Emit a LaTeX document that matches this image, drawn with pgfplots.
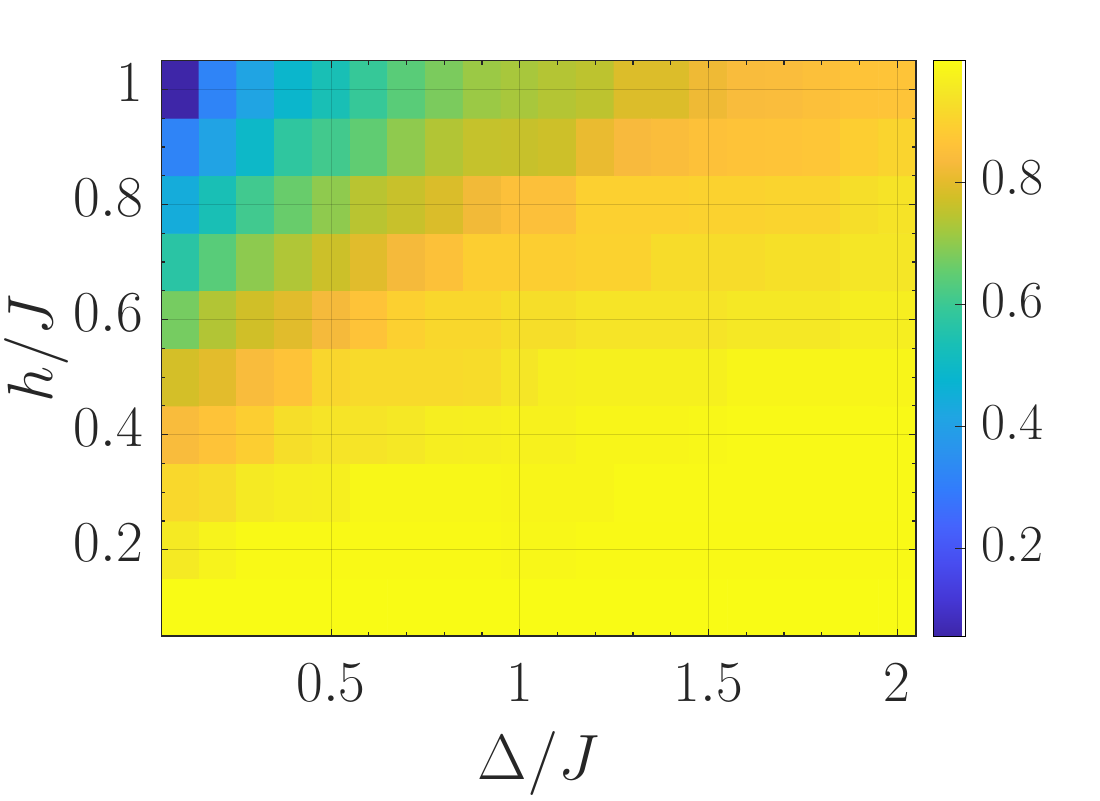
\RequirePackage{fix-cm}
\documentclass[border=0pt]{standalone}
\usepackage{pgfplots}
\pgfplotsset{compat=1.18}
\definecolor{mgray}{RGB}{38,38,38}
% parula (MATLAB) sampled from 64 entries
\pgfplotsset{colormap={parula}{
  rgb(0cm)=(0.2422,0.1504,0.6603)
  rgb(4cm)=(0.2706,0.2147,0.8364)
  rgb(8cm)=(0.2813,0.3006,0.9414)
  rgb(12cm)=(0.2699,0.3892,0.9906)
  rgb(16cm)=(0.1963,0.4847,0.9892)
  rgb(20cm)=(0.1687,0.5703,0.9359)
  rgb(24cm)=(0.1248,0.6459,0.8883)
  rgb(28cm)=(0.0297,0.7082,0.8163)
  rgb(32cm)=(0.0964,0.7500,0.7120)
  rgb(36cm)=(0.2161,0.7843,0.5923)
  rgb(40cm)=(0.3909,0.8029,0.4354)
  rgb(44cm)=(0.6174,0.7876,0.2612)
  rgb(46cm)=(0.7242,0.7698,0.1910)
  rgb(48cm)=(0.8203,0.7498,0.1535)
  rgb(50cm)=(0.9035,0.7330,0.1774)
  rgb(52cm)=(0.9728,0.7298,0.2394)
  rgb(54cm)=(0.9970,0.7659,0.2199)
  rgb(56cm)=(0.9892,0.8136,0.1885)
  rgb(58cm)=(0.9676,0.8639,0.1643)
  rgb(60cm)=(0.9597,0.9135,0.1423)
  rgb(63cm)=(0.9769,0.9839,0.0805)
}}
\begin{document}
\begin{tikzpicture}
\useasboundingbox (-80.65pt,-82pt) rectangle (469.35pt,318pt);
\begin{axis}[
  at={(0,0)}, anchor=south west,
  scale only axis, width=377.35pt, height=287.65pt,
  xmin=0.05, xmax=2.05, ymin=0.05, ymax=1.05,
  xtick={0.5,1,1.5,2}, ytick={0.2,0.4,0.6,0.8,1},
  minor x tick num=4, minor y tick num=3,
  tick align=inside, major tick length=3.5pt, minor tick length=2pt,
  every tick/.style={mgray, line width=0.6pt},
  axis line style={mgray, line width=0.7pt},
  grid=major, major grid style={black, opacity=0.15, line width=0.5pt},
  axis on top,
  ticklabel style={font=\fontsize{29}{34}\selectfont, text=mgray},
  xticklabel style={anchor=base, yshift=-32.5pt},
  yticklabel style={anchor=east, inner sep=0pt, xshift=-9pt, yshift=3.5pt},
  label style={font=\fontsize{32}{38}\selectfont, text=mgray},
  xlabel={$\Delta/J$}, ylabel={$h/J$},
  xlabel style={at={(axis description cs:0.5,-0.2486)}, anchor=base},
  ylabel style={at={(axis description cs:-0.1656,0.5)}, anchor=center},
  colormap name=parula, colorbar,
  point meta min=0.057, point meta max=0.999,
  colorbar style={
    at={(parent axis.north east)}, anchor=north west, xshift=0pt,
    width=16pt, ytick={0.2,0.4,0.6,0.8}, minor y tick num=0,
    ytick pos=right, yticklabel pos=right, ytick align=inside,
    major tick length=5pt, grid=none,
    every y tick label/.style={font=\fontsize{26}{31}\selectfont, text=mgray,
      anchor=west, inner sep=0pt, xshift=8pt, yshift=2pt},
  },
]
\addplot[matrix plot*, mesh/cols=20, point meta=explicit] coordinates {
(0.1,0.1)[0.998] (0.2,0.1)[0.998] (0.3,0.1)[0.998] (0.4,0.1)[0.998] (0.5,0.1)[0.998] (0.6,0.1)[0.998] (0.7,0.1)[0.998] (0.8,0.1)[0.998] (0.9,0.1)[0.998] (1.0,0.1)[0.998] (1.1,0.1)[0.998] (1.2,0.1)[0.998] (1.3,0.1)[0.998] (1.4,0.1)[0.998] (1.5,0.1)[0.998] (1.6,0.1)[0.998] (1.7,0.1)[0.998] (1.8,0.1)[0.998] (1.9,0.1)[0.998] (2.0,0.1)[0.998]
(0.1,0.2)[0.957] (0.2,0.2)[0.978] (0.3,0.2)[0.995] (0.4,0.2)[0.995] (0.5,0.2)[0.995] (0.6,0.2)[0.995] (0.7,0.2)[0.995] (0.8,0.2)[0.995] (0.9,0.2)[0.995] (1.0,0.2)[0.99] (1.1,0.2)[0.99] (1.2,0.2)[0.995] (1.3,0.2)[0.995] (1.4,0.2)[0.995] (1.5,0.2)[0.995] (1.6,0.2)[0.995] (1.7,0.2)[0.995] (1.8,0.2)[0.995] (1.9,0.2)[0.995] (2.0,0.2)[0.995]
(0.1,0.3)[0.914] (0.2,0.3)[0.925] (0.3,0.3)[0.957] (0.4,0.3)[0.966] (0.5,0.3)[0.97] (0.6,0.3)[0.99] (0.7,0.3)[0.99] (0.8,0.3)[0.99] (0.9,0.3)[0.99] (1.0,0.3)[0.985] (1.1,0.3)[0.985] (1.2,0.3)[0.985] (1.3,0.3)[0.993] (1.4,0.3)[0.993] (1.5,0.3)[0.993] (1.6,0.3)[0.993] (1.7,0.3)[0.993] (1.8,0.3)[0.993] (1.9,0.3)[0.993] (2.0,0.3)[0.993]
(0.1,0.4)[0.84] (0.2,0.4)[0.864] (0.3,0.4)[0.891] (0.4,0.4)[0.928] (0.5,0.4)[0.942] (0.6,0.4)[0.942] (0.7,0.4)[0.952] (0.8,0.4)[0.966] (0.9,0.4)[0.97] (1.0,0.4)[0.975] (1.1,0.4)[0.975] (1.2,0.4)[0.985] (1.3,0.4)[0.985] (1.4,0.4)[0.985] (1.5,0.4)[0.99] (1.6,0.4)[0.993] (1.7,0.4)[0.993] (1.8,0.4)[0.993] (1.9,0.4)[0.993] (2.0,0.4)[0.993]
(0.1,0.5)[0.778] (0.2,0.5)[0.80] (0.3,0.5)[0.84] (0.4,0.5)[0.864] (0.5,0.5)[0.91] (0.6,0.5)[0.92] (0.7,0.5)[0.92] (0.8,0.5)[0.92] (0.9,0.5)[0.924] (1.0,0.5)[0.947] (1.1,0.5)[0.966] (1.2,0.5)[0.972] (1.3,0.5)[0.972] (1.4,0.5)[0.972] (1.5,0.5)[0.972] (1.6,0.5)[0.985] (1.7,0.5)[0.985] (1.8,0.5)[0.985] (1.9,0.5)[0.985] (2.0,0.5)[0.985]
(0.1,0.6)[0.674] (0.2,0.6)[0.738] (0.3,0.6)[0.773] (0.4,0.6)[0.797] (0.5,0.6)[0.83] (0.6,0.6)[0.864] (0.7,0.6)[0.895] (0.8,0.6)[0.912] (0.9,0.6)[0.912] (1.0,0.6)[0.928] (1.1,0.6)[0.928] (1.2,0.6)[0.942] (1.3,0.6)[0.942] (1.4,0.6)[0.942] (1.5,0.6)[0.942] (1.6,0.6)[0.952] (1.7,0.6)[0.952] (1.8,0.6)[0.952] (1.9,0.6)[0.966] (2.0,0.6)[0.966]
(0.1,0.7)[0.57] (0.2,0.7)[0.64] (0.3,0.7)[0.698] (0.4,0.7)[0.735] (0.5,0.7)[0.768] (0.6,0.7)[0.797] (0.7,0.7)[0.83] (0.8,0.7)[0.856] (0.9,0.7)[0.891] (1.0,0.7)[0.891] (1.1,0.7)[0.891] (1.2,0.7)[0.90] (1.3,0.7)[0.90] (1.4,0.7)[0.924] (1.5,0.7)[0.924] (1.6,0.7)[0.924] (1.7,0.7)[0.933] (1.8,0.7)[0.933] (1.9,0.7)[0.947] (2.0,0.7)[0.947]
(0.1,0.8)[0.443] (0.2,0.8)[0.537] (0.3,0.8)[0.608] (0.4,0.8)[0.66] (0.5,0.8)[0.70] (0.6,0.8)[0.745] (0.7,0.8)[0.763] (0.8,0.8)[0.787] (0.9,0.8)[0.825] (1.0,0.8)[0.853] (1.1,0.8)[0.853] (1.2,0.8)[0.895] (1.3,0.8)[0.895] (1.4,0.8)[0.895] (1.5,0.8)[0.90] (1.6,0.8)[0.90] (1.7,0.8)[0.905] (1.8,0.8)[0.905] (1.9,0.8)[0.928] (2.0,0.8)[0.94]
(0.1,0.9)[0.32] (0.2,0.9)[0.41] (0.3,0.9)[0.495] (0.4,0.9)[0.58] (0.5,0.9)[0.61] (0.6,0.9)[0.65] (0.7,0.9)[0.70] (0.8,0.9)[0.738] (0.9,0.9)[0.76] (1.0,0.9)[0.762] (1.1,0.9)[0.77] (1.2,0.9)[0.81] (1.3,0.9)[0.835] (1.4,0.9)[0.845] (1.5,0.9)[0.857] (1.6,0.9)[0.862] (1.7,0.9)[0.865] (1.8,0.9)[0.87] (1.9,0.9)[0.89] (2.0,0.9)[0.905]
(0.1,1.0)[0.057] (0.2,1.0)[0.32] (0.3,1.0)[0.415] (0.4,1.0)[0.486] (0.5,1.0)[0.537] (0.6,1.0)[0.594] (0.7,1.0)[0.641] (0.8,1.0)[0.679] (0.9,1.0)[0.712] (1.0,1.0)[0.726] (1.1,1.0)[0.74] (1.2,1.0)[0.75] (1.3,1.0)[0.79] (1.4,1.0)[0.79] (1.5,1.0)[0.82] (1.6,1.0)[0.84] (1.7,1.0)[0.843] (1.8,1.0)[0.853] (1.9,1.0)[0.862] (2.0,1.0)[0.866]
};
\end{axis}
\end{tikzpicture}
\end{document}
